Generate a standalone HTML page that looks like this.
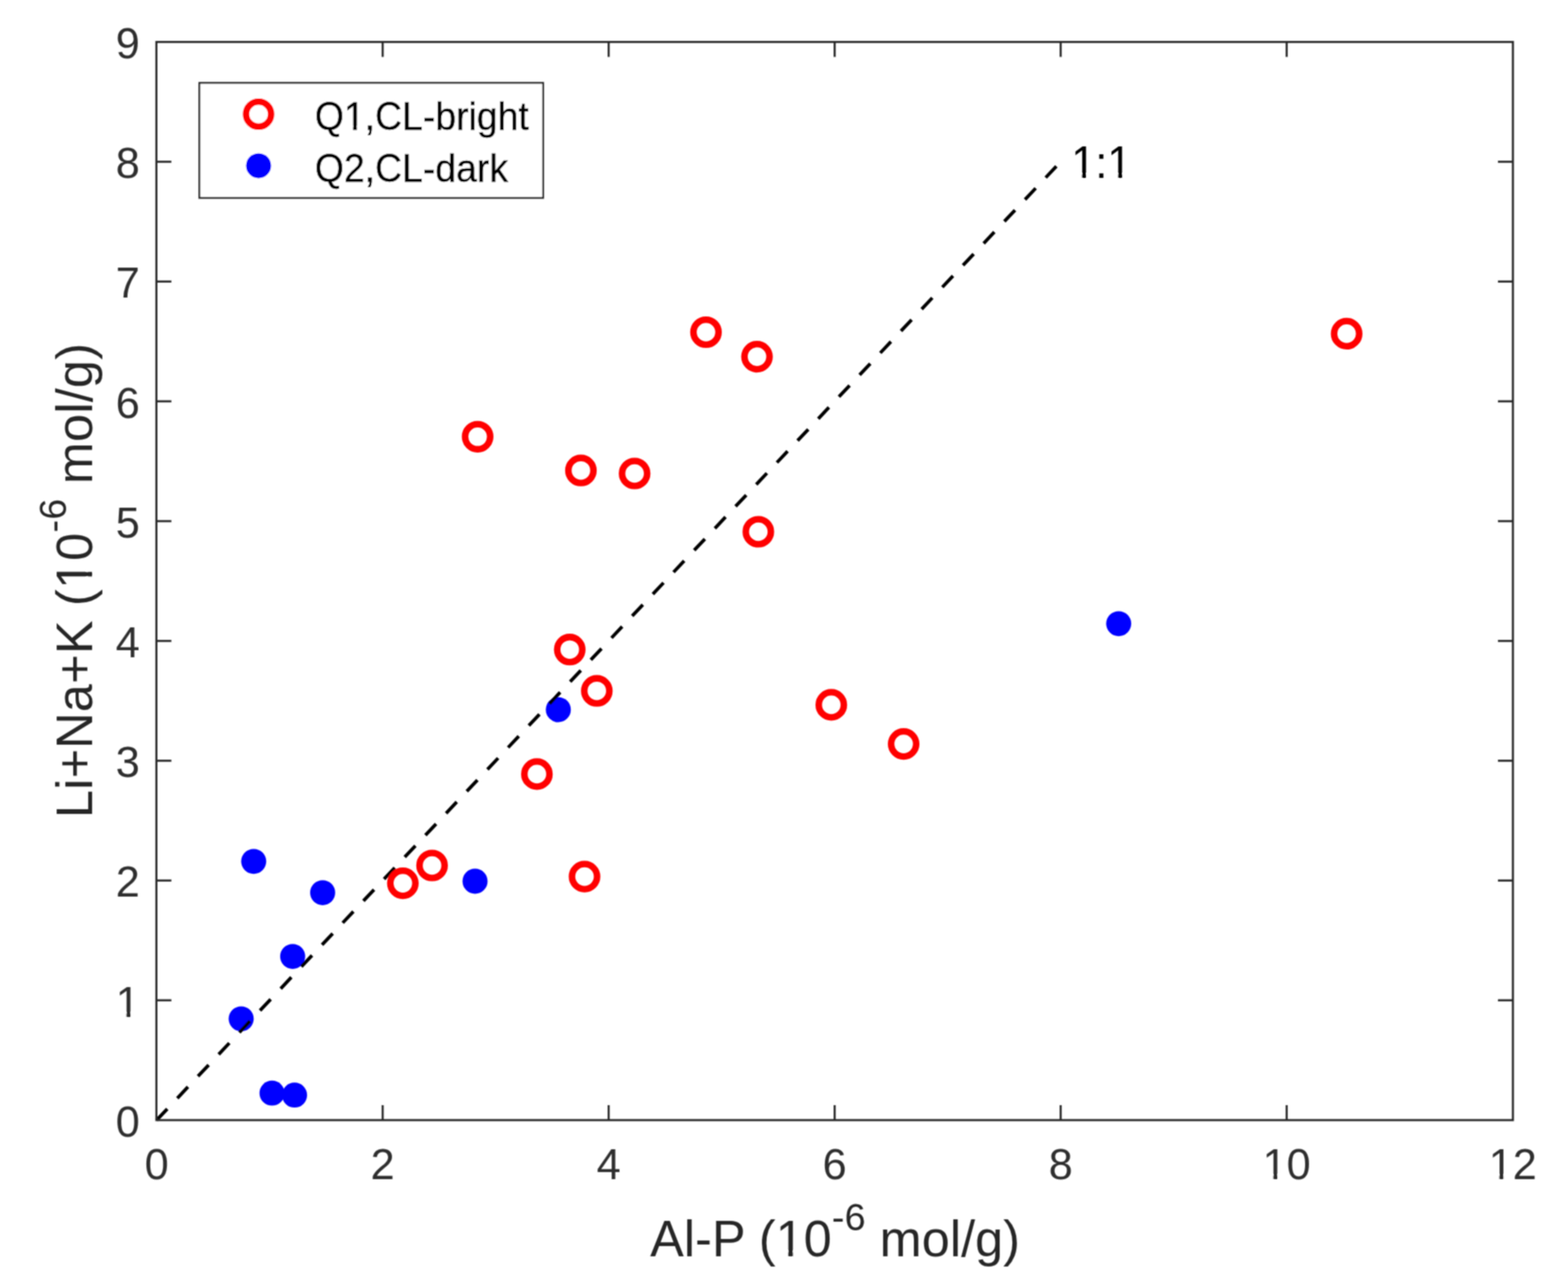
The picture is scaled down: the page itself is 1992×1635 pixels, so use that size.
<!DOCTYPE html><html><head><meta charset="utf-8"><title>Li+Na+K vs Al-P</title><style>html,body{margin:0;padding:0;background:#fff;overflow:hidden;}svg{display:block;}text{font-family:"Liberation Sans",Arial,Helvetica,sans-serif;}</style></head><body>
<svg width="1992" height="1635" viewBox="0 0 1992 1635">
<defs><filter id="soft" filterUnits="userSpaceOnUse" x="0" y="0" width="1992" height="1635"><feConvolveMatrix order="3" kernelMatrix="1 2 1 2 4 2 1 2 1" divisor="16" edgeMode="none"/></filter></defs>
<rect x="0" y="0" width="1992" height="1635" fill="#fff"/>
<g filter="url(#soft)">
<g fill="#0000ff">
<circle cx="1421.2" cy="792.3" r="15.9"/>
<circle cx="709.3" cy="901.6" r="15.9"/>
<circle cx="322.3" cy="1094.3" r="15.9"/>
<circle cx="409.9" cy="1134.1" r="15.9"/>
<circle cx="603.5" cy="1119.5" r="15.9"/>
<circle cx="371.8" cy="1215.1" r="15.9"/>
<circle cx="306.4" cy="1294.3" r="15.9"/>
<circle cx="345.6" cy="1388.7" r="15.9"/>
<circle cx="374.2" cy="1391.2" r="15.9"/>
</g>
<line x1="199.00" y1="1423.00" x2="1347.48" y2="205.49" stroke="#000" stroke-width="4.3" stroke-dasharray="19.7 18.58"/>
<g fill="none" stroke="#ff0000" stroke-width="8.3">
<circle cx="1710.8" cy="423.9" r="15.95"/>
<circle cx="896.9" cy="422.0" r="15.95"/>
<circle cx="961.7" cy="453.1" r="15.95"/>
<circle cx="606.8" cy="554.8" r="15.95"/>
<circle cx="738.0" cy="597.7" r="15.95"/>
<circle cx="806.2" cy="601.5" r="15.95"/>
<circle cx="963.4" cy="675.5" r="15.95"/>
<circle cx="723.8" cy="825.2" r="15.95"/>
<circle cx="758.2" cy="877.7" r="15.95"/>
<circle cx="1056.1" cy="895.4" r="15.95"/>
<circle cx="1148.0" cy="945.1" r="15.95"/>
<circle cx="682.1" cy="983.4" r="15.95"/>
<circle cx="548.9" cy="1099.5" r="15.95"/>
<circle cx="511.8" cy="1122.1" r="15.95"/>
<circle cx="742.6" cy="1113.6" r="15.95"/>
</g>
<g stroke="#262626" stroke-width="2.6" fill="none">
<rect x="198.7" y="53.3" width="1723.30" height="1369.70"/>
<line x1="486.12" y1="1423.0" x2="486.12" y2="1404.0"/>
<line x1="486.12" y1="53.3" x2="486.12" y2="72.3"/>
<line x1="773.24" y1="1423.0" x2="773.24" y2="1404.0"/>
<line x1="773.24" y1="53.3" x2="773.24" y2="72.3"/>
<line x1="1060.36" y1="1423.0" x2="1060.36" y2="1404.0"/>
<line x1="1060.36" y1="53.3" x2="1060.36" y2="72.3"/>
<line x1="1347.48" y1="1423.0" x2="1347.48" y2="1404.0"/>
<line x1="1347.48" y1="53.3" x2="1347.48" y2="72.3"/>
<line x1="1634.60" y1="1423.0" x2="1634.60" y2="1404.0"/>
<line x1="1634.60" y1="53.3" x2="1634.60" y2="72.3"/>
<line x1="198.7" y1="1270.81" x2="217.7" y2="1270.81"/>
<line x1="1922.0" y1="1270.81" x2="1903.0" y2="1270.81"/>
<line x1="198.7" y1="1118.62" x2="217.7" y2="1118.62"/>
<line x1="1922.0" y1="1118.62" x2="1903.0" y2="1118.62"/>
<line x1="198.7" y1="966.43" x2="217.7" y2="966.43"/>
<line x1="1922.0" y1="966.43" x2="1903.0" y2="966.43"/>
<line x1="198.7" y1="814.24" x2="217.7" y2="814.24"/>
<line x1="1922.0" y1="814.24" x2="1903.0" y2="814.24"/>
<line x1="198.7" y1="662.06" x2="217.7" y2="662.06"/>
<line x1="1922.0" y1="662.06" x2="1903.0" y2="662.06"/>
<line x1="198.7" y1="509.87" x2="217.7" y2="509.87"/>
<line x1="1922.0" y1="509.87" x2="1903.0" y2="509.87"/>
<line x1="198.7" y1="357.68" x2="217.7" y2="357.68"/>
<line x1="1922.0" y1="357.68" x2="1903.0" y2="357.68"/>
<line x1="198.7" y1="205.49" x2="217.7" y2="205.49"/>
<line x1="1922.0" y1="205.49" x2="1903.0" y2="205.49"/>
</g>
<rect x="253.3" y="105.3" width="436.7" height="146.1" fill="#fff" stroke="#262626" stroke-width="2.3"/>
<circle cx="328.5" cy="145" r="15.95" fill="none" stroke="#ff0000" stroke-width="8.3"/>
<circle cx="328.5" cy="210.6" r="15.9" fill="#0000ff"/>
<text id="xt0" transform="translate(199.00,1497.60)" font-size="55" fill="#2e2e2e" text-anchor="middle">0</text>
<text id="xt2" transform="translate(486.12,1497.60)" font-size="55" fill="#2e2e2e" text-anchor="middle">2</text>
<text id="xt4" transform="translate(773.24,1497.60)" font-size="55" fill="#2e2e2e" text-anchor="middle">4</text>
<text id="xt6" transform="translate(1060.36,1497.60)" font-size="55" fill="#2e2e2e" text-anchor="middle">6</text>
<text id="xt8" transform="translate(1347.48,1497.60)" font-size="55" fill="#2e2e2e" text-anchor="middle">8</text>
<text id="xt10" transform="translate(1634.60,1497.60)" font-size="55" fill="#2e2e2e" text-anchor="middle">10</text>
<text id="xt12" transform="translate(1921.72,1497.60)" font-size="55" fill="#2e2e2e" text-anchor="middle">12</text>
<text id="yt0" transform="translate(177.60,1443.80)" font-size="55" fill="#2e2e2e" text-anchor="end">0</text>
<text id="yt1" transform="translate(177.60,1291.61)" font-size="55" fill="#2e2e2e" text-anchor="end">1</text>
<text id="yt2" transform="translate(177.60,1139.42)" font-size="55" fill="#2e2e2e" text-anchor="end">2</text>
<text id="yt3" transform="translate(177.60,987.23)" font-size="55" fill="#2e2e2e" text-anchor="end">3</text>
<text id="yt4" transform="translate(177.60,835.04)" font-size="55" fill="#2e2e2e" text-anchor="end">4</text>
<text id="yt5" transform="translate(177.60,682.86)" font-size="55" fill="#2e2e2e" text-anchor="end">5</text>
<text id="yt6" transform="translate(177.60,530.67)" font-size="55" fill="#2e2e2e" text-anchor="end">6</text>
<text id="yt7" transform="translate(177.60,378.48)" font-size="55" fill="#2e2e2e" text-anchor="end">7</text>
<text id="yt8" transform="translate(177.60,226.29)" font-size="55" fill="#2e2e2e" text-anchor="end">8</text>
<text id="yt9" transform="translate(177.60,74.10)" font-size="55" fill="#2e2e2e" text-anchor="end">9</text>
<text id="xl" transform="translate(826.00,1595.50) scale(1,1.01)" font-size="64" fill="#262626" letter-spacing="0.1">Al-P (10<tspan dy="-32" font-size="48">-6</tspan><tspan dy="32" font-size="64"> mol/g)</tspan></text>
<text id="yl" transform="translate(116.60,1039.30) rotate(-90) scale(1,1.02)" font-size="64" fill="#262626" letter-spacing="0.32">Li+Na+K (10<tspan dy="-32" font-size="48">-6</tspan><tspan dy="32" font-size="64"> mol/g)</tspan></text>
<text id="one2one" transform="translate(1361.00,226.20) scale(1,1.03)" font-size="55" fill="#000">1:1</text>
<text id="lg1" transform="translate(400.00,165.20) scale(1,1.065)" font-size="47.5" fill="#000" stroke="#000" stroke-width="0.45">Q1,CL-bright</text>
<text id="lg2" transform="translate(400.00,230.50) scale(1,1.065)" font-size="47.5" fill="#000" stroke="#000" stroke-width="0.45">Q2,CL-dark</text>
<g transform="translate(1634.60,1497.60)"><rect x="-27.64" y="-5.77" width="10.58" height="7.79" fill="#fff"/><rect x="-11.60" y="-5.77" width="10.28" height="7.79" fill="#fff"/></g>
<g transform="translate(1921.72,1497.60)"><rect x="-27.64" y="-5.77" width="10.58" height="7.79" fill="#fff"/><rect x="-11.60" y="-5.77" width="10.28" height="7.79" fill="#fff"/></g>
<g transform="translate(177.60,1291.61)"><rect x="-27.64" y="-5.77" width="10.58" height="7.79" fill="#fff"/><rect x="-11.60" y="-5.77" width="10.28" height="7.79" fill="#fff"/></g>
<g transform="translate(826.00,1595.50) scale(1,1.01)"><rect x="162.86" y="-6.72" width="12.36" height="9.06" fill="#fff"/><rect x="181.47" y="-6.72" width="12.01" height="9.06" fill="#fff"/></g>
<g transform="translate(116.60,1039.30) rotate(-90) scale(1,1.02)"><rect x="294.39" y="-6.72" width="12.36" height="9.06" fill="#fff"/><rect x="313.00" y="-6.72" width="12.01" height="9.06" fill="#fff"/></g>
<g transform="translate(1361.00,226.20) scale(1,1.03)"><rect x="2.95" y="-5.77" width="10.58" height="7.79" fill="#fff"/><rect x="18.99" y="-5.77" width="10.28" height="7.79" fill="#fff"/></g>
<g transform="translate(1361.00,226.20) scale(1,1.03)"><rect x="48.81" y="-5.77" width="10.58" height="7.79" fill="#fff"/><rect x="64.85" y="-5.77" width="10.28" height="7.79" fill="#fff"/></g>
<g transform="translate(400.00,165.20) scale(1,1.065)"><rect x="39.47" y="-4.99" width="9.09" height="6.73" fill="#fff"/><rect x="53.36" y="-4.99" width="8.84" height="6.73" fill="#fff"/></g>
</g>
</svg></body></html>
